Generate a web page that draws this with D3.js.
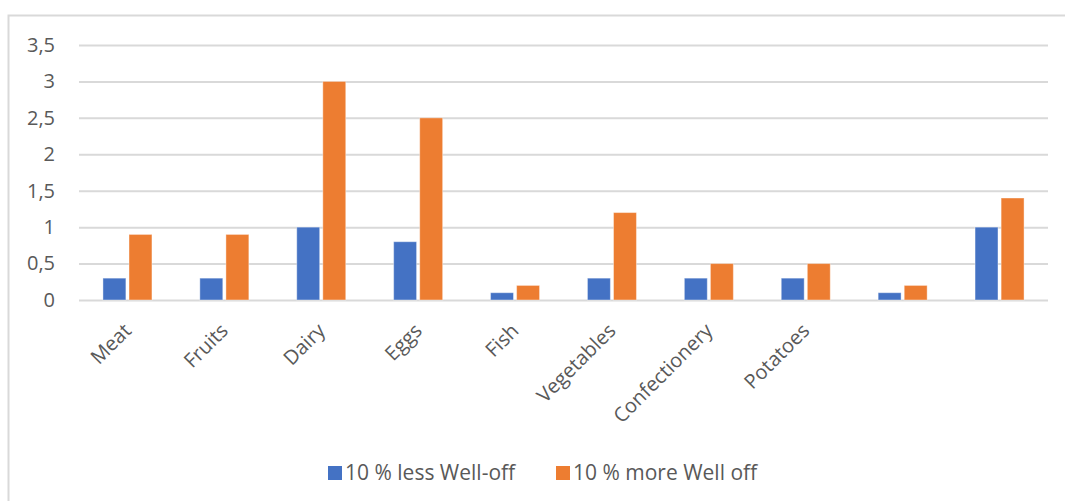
<!DOCTYPE html>
<html>
<head>
<meta charset="utf-8">
<script src="https://cdn.jsdelivr.net/npm/d3@7"></script>
<style>
  body { margin: 0; background: #fff; }
  text { font-family: "Open Sans", sans-serif; fill: #595959; }
</style>
</head>
<body>
<script>
// data
const categories = ["Meat", "Fruits", "Dairy", "Eggs", "Fish", "Vegetables", "Confectionery", "Potatoes", "", " "];
const lessWellOff = [0.3, 0.3, 1, 0.8, 0.1, 0.3, 0.3, 0.3, 0.1, 1];
const moreWellOff = [0.9, 0.9, 3, 2.5, 0.2, 1.2, 0.5, 0.5, 0.2, 1.4];
const seriesNames = ["10 % less Well-off", "10 % more Well off"];
const colors = ["#4472c4", "#ed7d31"];
const yTicks = [0, 0.5, 1, 1.5, 2, 2.5, 3, 3.5];

const W = 1065, H = 501;
const margin = {top: 45, right: 17, bottom: 201, left: 79},
    width = W - margin.left - margin.right,
    height = H - margin.top - margin.bottom;

const root = d3.select("body")
    .append("svg")
    .attr("width", W)
    .attr("height", H);

// outer chart border (right and bottom run off the picture)
root.append("path")
    .attr("d", `M8.5,${H}V15.5H${W}`)
    .attr("fill", "none")
    .attr("stroke", "#d9d9d9")
    .attr("stroke-width", 2);

const svg = root.append("g")
    .attr("transform", `translate(${margin.left}, ${margin.top})`);

const x = d3.scaleBand()
    .domain(categories)
    .range([0, width]);

const x1 = d3.scaleBand()
    .domain([0, 1])
    .range([x.bandwidth() / 2 - 24.5, x.bandwidth() / 2 + 24.5])
    .paddingInner(0.12);

const y = d3.scaleLinear()
    .domain([0, 3.5])
    .range([height, 0]);

// gridlines
svg.append("g")
    .attr("class", "grid")
    .call(d3.axisLeft(y)
        .tickValues(yTicks)
        .tickSize(-width)
        .tickFormat(""))
    .call(g => g.select(".domain").remove())
    .call(g => g.selectAll("line").attr("stroke", "#d9d9d9").attr("stroke-width", 2));

// y labels
const fmt = d => String(d).replace(".", ",");
svg.append("g")
    .call(d3.axisLeft(y).tickValues(yTicks).tickSize(0).tickPadding(24).tickFormat(fmt))
    .call(g => g.select(".domain").remove())
    .call(g => g.selectAll("text")
        .style("font-size", "20px")
        .style("fill", "#595959"));

// bars
const rows = categories.map((c, i) => ({c, v: [lessWellOff[i], moreWellOff[i]]}));
const groups = svg.selectAll(".grp")
    .data(rows)
    .join("g")
    .attr("transform", d => `translate(${x(d.c)},0)`);

groups.selectAll("rect")
    .data(d => d.v.map((v, k) => ({k, v})))
    .join("rect")
    .attr("x", d => x1(d.k))
    .attr("y", d => y(d.v))
    .attr("width", x1.bandwidth())
    .attr("height", d => y(0) - y(d.v))
    .attr("fill", d => colors[d.k])
    .attr("stroke", "#fff")
    .attr("stroke-opacity", 0.4)
    .attr("stroke-width", 1);

// x labels
svg.append("g")
    .attr("transform", `translate(0, ${height})`)
    .call(d3.axisBottom(x).tickSize(0).tickPadding(0))
    .call(g => g.select(".domain").remove())
    .selectAll("text")
    .style("font-size", "20px")
    .style("fill", "#595959")
    .attr("y", 0)
    .attr("dy", 0)
    .attr("transform", "translate(5,32)rotate(-45)")
    .style("text-anchor", "end");

// legend
const legend = root.append("g")
    .attr("transform", "translate(328, 466)");
const lx = [0, 228];
seriesNames.forEach((name, i) => {
  legend.append("rect")
      .attr("x", lx[i])
      .attr("y", 0)
      .attr("width", 14)
      .attr("height", 14)
      .attr("fill", colors[i]);
  legend.append("text")
      .attr("x", lx[i] + 17)
      .attr("y", 14)
      .style("font-size", "21px")
      .text(name);
});
</script>
</body>
</html>
